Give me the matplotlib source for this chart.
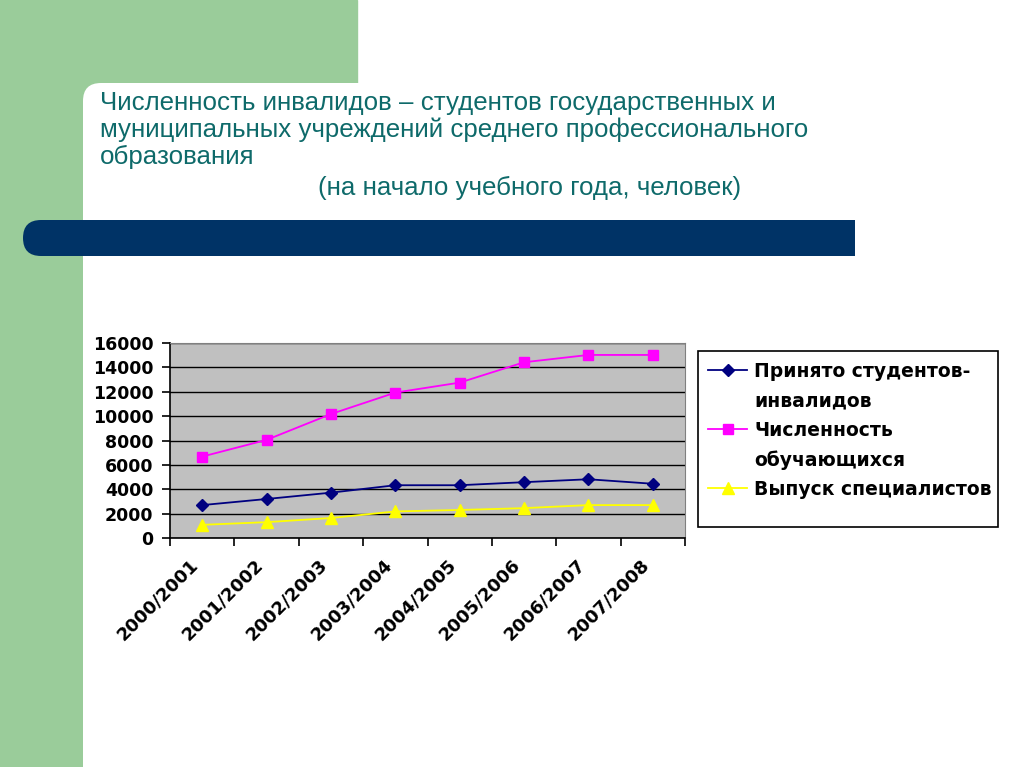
import matplotlib.pyplot as plt
from matplotlib.lines import Line2D
from matplotlib.patches import FancyBboxPatch, Rectangle

plt.rcParams['font.family'] = ['Liberation Sans', 'DejaVu Sans']

years = ['2000/2001', '2001/2002', '2002/2003', '2003/2004',
         '2004/2005', '2005/2006', '2006/2007', '2007/2008']
accepted = [2700, 3200, 3720, 4330, 4330, 4580, 4820, 4450]
students = [6680, 8050, 10170, 11930, 12750, 14420, 15020, 15020]
graduates = [1080, 1300, 1640, 2180, 2300, 2450, 2700, 2700]

labels = ['Принято студентов-', 'инвалидов', 'Численность', 'обучающихся', 'Выпуск специалистов']

W, H = 1024, 767
fig = plt.figure(figsize=(W / 100, H / 100), dpi=100)

# slide background
green = '#9ACC9A'
fig.patches.append(Rectangle((0, H - 100), 357, 100, transform=None, color=green, zorder=0))
fig.patches.append(Rectangle((0, 0), 100, H, transform=None, color=green, zorder=0))
fig.patches.append(Rectangle((0, 0), 83, H, transform=None, color=green, zorder=0))
fig.patches.append(FancyBboxPatch((83, -50), 1100, H - 83 + 50, transform=None,
                                  boxstyle='round,pad=0,rounding_size=18',
                                  fc='white', ec='none', zorder=1))
navy = '#003366'
fig.patches.append(FancyBboxPatch((23, H - 256), 832, 36, transform=None,
                                  boxstyle='round,pad=0,rounding_size=18',
                                  fc=navy, ec='none', zorder=2))
fig.patches.append(Rectangle((800, H - 256), 55, 36, transform=None, fc=navy, ec='none', zorder=2))

teal = '#0E6A6A'
title = ('Численность инвалидов – студентов государственных и\n'
         'муниципальных учреждений среднего профессионального\n'
         'образования')
fig.text(100 / W, 1 - 91 / H, title, fontsize=18.6, color=teal, va='top', ha='left',
         linespacing=1.13, zorder=3)
fig.text(318 / W, 1 - 176 / H, '(на начало учебного года, человек)', fontsize=18.6,
         color=teal, va='top', ha='left', zorder=3)

# chart
bold = {'family': 'DejaVu Sans', 'weight': 'bold'}
ax = fig.add_axes([170 / W, 1 - 538 / H, 515 / W, 195 / H])
ax.set_zorder(5)
ax.set_facecolor('#C0C0C0')
x = [i + 0.5 for i in range(len(years))]
l1, = ax.plot(x, accepted, color='#000080', marker='D', markersize=6, lw=1.3)
l2, = ax.plot(x, students, color='#FF00FF', marker='s', markersize=7, lw=1.3)
l3, = ax.plot(x, graduates, color='#FFFF00', marker='^', markersize=8, lw=1.3)

ax.set_xlim(0, 8)
ax.set_ylim(0, 16000)
ax.set_yticks(range(0, 16001, 2000))
ax.set_yticklabels([str(v) for v in range(0, 16001, 2000)], fontsize=12.5, **bold)
ax.set_xticks(range(0, 9))
ax.set_xticklabels([])
ax.set_xticks(x, minor=True)
ax.set_xticklabels(years, minor=True, rotation=45, ha='right', va='top',
                   fontsize=13, **bold)
ax.tick_params(axis='x', which='minor', length=0, pad=13)
ax.tick_params(axis='x', which='major', length=6, width=1.2, direction='out')
ax.tick_params(axis='y', length=6, width=1.2, direction='out', pad=6)
ax.grid(axis='y', color='black', lw=1)
ax.set_axisbelow(True)
for s in ['top', 'right']:
    ax.spines[s].set_color('#808080')
for s in ['left', 'bottom']:
    ax.spines[s].set_color('black')
    ax.spines[s].set_linewidth(1.2)

# legend box
fig.patches.append(Rectangle((698, H - 527), 300, 176, transform=None,
                             fc='white', ec='black', lw=1.2, zorder=3))
blank = Line2D([], [], color='none')
leg = fig.legend([l1, blank, l2, blank, l3], labels, loc='upper left',
                 bbox_to_anchor=(708 / W, 1 - 362 / H), frameon=False,
                 borderpad=0, borderaxespad=0,
                 prop={'size': 13.5, 'weight': 'bold', 'family': 'DejaVu Sans'},
                 handlelength=2.1, handletextpad=0.36, labelspacing=0.55)
leg.set_zorder(6)

fig.savefig('out.png', dpi=100)
